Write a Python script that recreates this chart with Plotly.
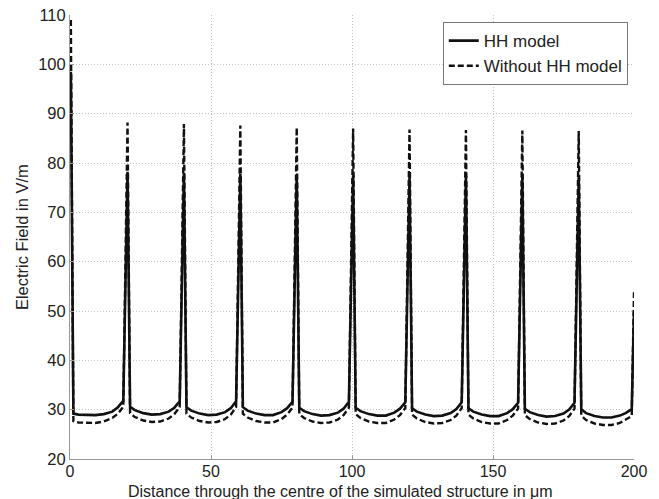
import plotly.graph_objects as go

# Distance through the structure (µm)
distance_um = [
    0.3, 1.2, 3, 6, 9, 12, 15, 17, 18.9,
    20.4, 21.3, 23, 26, 29, 32, 35, 37, 38.9,
    40.4, 41.3, 43, 46, 49, 52, 55, 57, 58.9,
    60.4, 61.3, 63, 66, 69, 72, 75, 77, 78.9,
    80.4, 81.3, 83, 86, 89, 92, 95, 97, 98.9,
    100.4, 101.3, 103, 106, 109, 112, 115, 117, 118.9,
    120.4, 121.3, 123, 126, 129, 132, 135, 137, 138.9,
    140.4, 141.3, 143, 146, 149, 152, 155, 157, 158.9,
    160.4, 161.3, 163, 166, 169, 172, 175, 177, 178.9,
    180.4, 181.3, 183, 186, 189, 192, 195, 197, 199.2,
    200,
]

# Electric field with HH model (V/m)
field_hh = [
    98.5, 29.2, 29.0, 28.9, 28.9, 29.1, 29.6, 30.5, 31.8,
    78.2, 30.6, 29.9, 29.3, 29.0, 29.1, 29.6, 30.4, 31.7,
    78.0, 30.5, 29.8, 29.2, 28.9, 29.0, 29.5, 30.3, 31.7,
    77.8, 30.5, 29.8, 29.2, 28.9, 28.9, 29.5, 30.3, 31.6,
    77.6, 30.4, 29.7, 29.1, 28.8, 28.9, 29.4, 30.2, 31.6,
    77.5, 30.4, 29.7, 29.1, 28.8, 28.8, 29.4, 30.2, 31.5,
    77.4, 30.3, 29.6, 29.0, 28.7, 28.8, 29.3, 30.1, 31.5,
    77.3, 30.3, 29.6, 29.0, 28.7, 28.7, 29.3, 30.1, 31.4,
    77.2, 30.2, 29.5, 28.9, 28.6, 28.7, 29.2, 30.0, 31.4,
    77.1, 30.1, 29.3, 28.7, 28.4, 28.4, 28.8, 29.3, 30.1,
    49.8,
]

# Electric field without HH model (V/m)
field_without = [
    109.0, 27.7, 27.4, 27.3, 27.3, 27.6, 28.3, 29.2, 30.6,
    88.2, 29.3, 28.5, 27.8, 27.5, 27.6, 28.2, 29.1, 30.5,
    87.9, 29.2, 28.4, 27.7, 27.4, 27.5, 28.1, 29.0, 30.5,
    87.6, 29.2, 28.4, 27.7, 27.4, 27.4, 28.1, 29.0, 30.4,
    87.2, 29.1, 28.3, 27.6, 27.3, 27.4, 28.0, 28.9, 30.4,
    87.0, 29.1, 28.3, 27.6, 27.3, 27.3, 28.0, 28.9, 30.3,
    86.8, 29.0, 28.2, 27.5, 27.2, 27.3, 27.9, 28.8, 30.3,
    86.7, 29.0, 28.2, 27.5, 27.2, 27.2, 27.9, 28.8, 30.2,
    86.6, 28.9, 28.1, 27.4, 27.1, 27.2, 27.8, 28.7, 30.2,
    86.5, 28.8, 27.9, 27.2, 26.9, 26.9, 27.3, 27.9, 28.7,
    53.8,
]

x_ticks = [0, 50, 100, 150, 200]
y_ticks = [20, 30, 40, 50, 60, 70, 80, 90, 100, 110]

x_title = "Distance through the centre of the simulated structure in μm"
y_title = "Electric Field in V/m"

fig = go.Figure()
fig.add_trace(go.Scatter(
    x=distance_um, y=field_hh, mode="lines", name="HH model",
    line=dict(color="#111111", width=2.6),
))
fig.add_trace(go.Scatter(
    x=distance_um, y=field_without, mode="lines", name="Without HH model",
    line=dict(color="#111111", width=2.4, dash="6px,3px"),
))

font_family = "Liberation Sans, Arial, sans-serif"
axis_common = dict(
    showline=True, linecolor="#999999", linewidth=1,
    ticks="inside", ticklen=4, tickcolor="#999999",
    showgrid=True, gridcolor="#c4c4c4", griddash="1px,2px", gridwidth=1,
    zeroline=False, mirror=False, automargin=False,
)

fig.update_layout(
    width=659, height=499,
    margin=dict(l=70, r=25, t=15, b=40),
    paper_bgcolor="white", plot_bgcolor="white",
    font=dict(family=font_family, color="#222222"),
    showlegend=True,
    legend=dict(
        x=0.989, xanchor="right", y=0.984, yanchor="top",
        bgcolor="white", bordercolor="#777777", borderwidth=1,
        font=dict(size=17, color="#222222", family=font_family),
        tracegroupgap=0, itemwidth=30,
    ),
    annotations=[
        dict(text=x_title, xref="paper", yref="paper", x=0.479, y=-0.0725,
             xanchor="center", yanchor="middle", showarrow=False,
             font=dict(size=16, color="#222222", family=font_family)),
        dict(text=y_title, xref="paper", yref="paper", x=-0.085, y=0.50,
             xanchor="center", yanchor="middle", showarrow=False, textangle=-90,
             font=dict(size=16.5, color="#222222", family=font_family)),
    ],
)
fig.update_xaxes(range=[0, 200], tickvals=x_ticks, ticklabelstandoff=-2,
                 tickfont=dict(size=16, color="#222222", family=font_family),
                 **axis_common)
fig.update_yaxes(range=[20, 110], tickvals=y_ticks,
                 tickfont=dict(size=16.5, color="#222222", family=font_family),
                 **axis_common)

fig.write_html("out.html")
